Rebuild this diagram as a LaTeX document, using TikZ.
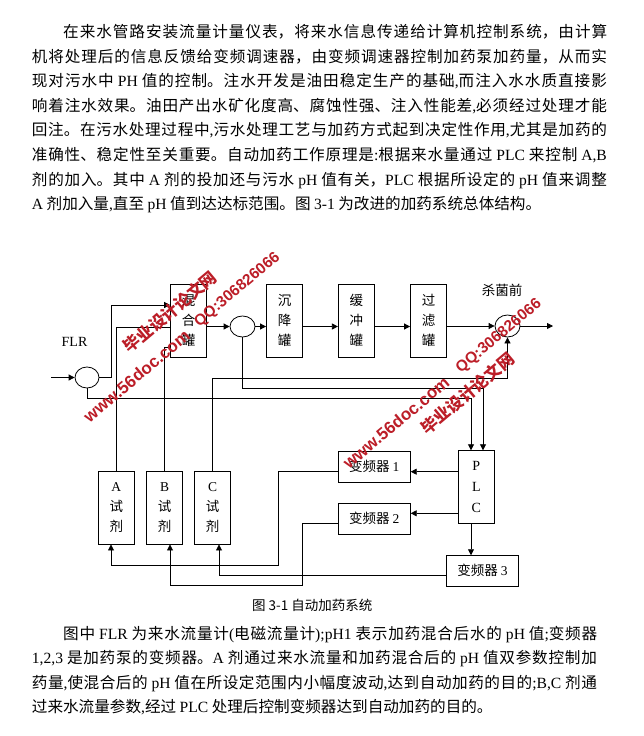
\documentclass[tikz,border=0pt]{standalone}
\usepackage{fontspec}
\setmainfont{Noto Sans CJK SC}
\newfontfamily\tnr{Liberation Serif}
\newfontfamily\wmlat{Liberation Sans}
\usetikzlibrary{arrows.meta,shapes.geometric}
\XeTeXlinebreaklocale "zh"
\XeTeXlinebreakskip=0pt plus 3pt
\newcommand\T[1]{{\tnr #1}}
\newcommand\jline[2]{\parbox[b]{#1}{\parfillskip=0pt\parindent=0pt\leftskip=0pt\rightskip=0pt\tolerance=10000\hbadness=10000\relax #2}}
\definecolor{wmred}{RGB}{188,30,40}
\begin{document}
\begin{tikzpicture}[x=1pt,y=-1pt,
  ln/.style={line width=0.8pt,black},
  arr/.style={ln,-{Triangle[length=6pt,width=6pt]}},
  tank/.style={draw,line width=0.8pt,inner sep=0pt,minimum width=36pt,minimum height=73pt,align=center,font=\fontsize{13.5}{20}\selectfont},
  fbox/.style={draw,line width=0.8pt,inner sep=0pt,minimum width=72pt,minimum height=31pt,font=\fontsize{13.5}{16}\selectfont},
  rnd/.style={draw,ellipse,line width=0.8pt,inner sep=0pt,minimum width=25pt,minimum height=21pt},
  para/.style={anchor=base west,inner sep=0pt,font=\fontsize{15.6}{18}\selectfont},
  wm/.style={text=wmred,inner sep=0pt,rotate=40},
  lbl/.style={inner sep=0pt}]
\useasboundingbox[fill=white] (0,0) rectangle (643,736);

% top paragraph
\node[para] (p1) at (63,37.5) {\jline{544pt}{在来水管路安装流量计量仪表，将来水信息传递给计算机控制系统，由计算}};
\node[para] (p2) at (31.7,62.1) {\jline{575pt}{机将处理后的信息反馈给变频调速器，由变频调速器控制加药泵加药量，从而实}};
\node[para] (p3) at (31.7,86.7) {\jline{575pt}{现对污水中 \T{PH} 值的控制。注水开发是油田稳定生产的基础\T{,}而注入水水质直接影}};
\node[para] (p4) at (31.7,111.3) {\jline{575pt}{响着注水效果。油田产出水矿化度高、腐蚀性强、注入性能差\T{,}必须经过处理才能}};
\node[para] (p5) at (31.7,135.9) {\jline{575pt}{回注。在污水处理过程中\T{,}污水处理工艺与加药方式起到决定性作用\T{,}尤其是加药的}};
\node[para] (p6) at (31.7,160.5) {\jline{575pt}{准确性、稳定性至关重要。自动加药工作原理是\T{:}根据来水量通过 \T{PLC} 来控制 \T{A,B}}};
\node[para] (p7) at (31.7,185.1) {\jline{575pt}{剂的加入。其中 \T{A} 剂的投加还与污水 \T{pH} 值有关，\T{PLC} 根据所设定的 \T{pH} 值来调整}};
\node[para] (p8) at (31.7,209.7) {\T{A} 剂加入量\T{,}直至 \T{pH} 值到达达标范围。图 \T{3-1} 为改进的加药系统总体结构。};

% tanks
\node[tank] (mix) at (188.5,320.5) {混\\合\\罐};
\node[tank] (sj) at (284.5,320.5) {沉\\降\\罐};
\node[tank] (hc) at (356.3,320.5) {缓\\冲\\罐};
\node[tank] (gl) at (428.5,320.5) {过\\滤\\罐};

% meters
\node[rnd,minimum width=24pt] (flr) at (87,377.5) {};
\node[rnd] (ph) at (242.5,326.5) {};
\node[rnd,minimum height=22pt] (st) at (507.5,326) {};
\node[lbl,font=\tnr\fontsize{14}{14}\selectfont] (flrl) at (74.5,342) {FLR};
\node[lbl,font=\fontsize{13.5}{14}\selectfont] (stl) at (502,290) {杀菌前};

% reagents
\node[tank,minimum height=72.3pt] (A) at (116.3,507.9) {\T{A}\\试\\剂};
\node[tank,minimum height=72.3pt] (B) at (164.7,507.9) {\T{B}\\试\\剂};
\node[tank,minimum height=72.3pt] (C) at (212.5,507.9) {\T{C}\\试\\剂};

% control
\node[fbox] (f1) at (374.3,466.5) {变频器 \T{1}};
\node[fbox] (f2) at (374.3,518.8) {变频器 \T{2}};
\node[fbox,minimum width=71.6pt,minimum height=30.3pt] (f3) at (482.5,570.8) {变频器 \T{3}};
\node[tank,minimum height=72.6pt,font=\tnr\fontsize{14}{21}\selectfont] (plc) at (476.3,487) {P\\L\\C};

\coordinate (in) at (51,377.5);
\coordinate (out) at (553,326);

% main flow
\draw[arr] (in) -- (flr.west);
\draw[arr] (flr.east) -- (111,377.5) -- (111,305) -- (mix.west |- 0,305);
\draw[arr] (mix.east |- ph.west) -- (ph.west);
\draw[arr] (ph.east) -- (sj.west |- ph.east);
\draw[arr] (sj.east |- ph.east) -- (hc.west |- ph.east);
\draw[arr] (hc.east |- ph.east) -- (gl.west |- ph.east);
\draw[arr] (gl.east |- st.west) -- (st.west);
\draw[arr] (st.east) -- (out);

% signals to PLC
\draw[arr] (flr.south) -- (flr.south |- 0,398) -- (471,398) -- (plc.north -| 471,0);
\draw[arr] (ph.south) -- (ph.south |- 0,388) -- (483,388) -- (plc.north -| 483,0);

% reagent feeds
\draw[ln] (A.north) -- (A.north |- 0,327) -- (mix.west |- 0,327);
\draw[ln] (B.north) -- (B.north |- 0,347) -- (mix.west |- 0,347);
\draw[arr] (C.north) -- (C.north |- 0,378) -- (507.5,378) -- (st.south);

% PLC outputs
\draw[arr] (plc.west |- 0,471.7) -- (f1.east |- 0,471.7);
\draw[arr] (plc.west |- 0,513.3) -- (f2.east |- 0,513.3);
\draw[arr] (plc.south -| 471,0) -- (f3.north -| 471,0);

% pumps
\draw[arr] (f1.west |- 0,471.7) -- (278.3,471.7) -- (278.3,565) -- (111,565) -- (A.south -| 111,0);
\draw[arr] (f2.west |- 0,523.3) -- (302.3,523.3) -- (302.3,585.7) -- (170,585.7) -- (B.south -| 170,0);
\draw[arr] (f3.west |- 0,575.7) -- (219,575.7) -- (C.south -| 219,0);

% caption
\node[anchor=west,inner sep=0pt,font=\fontsize{13.5}{14}\selectfont] (cap) at (252,605) {图 3-1 自动加药系统};

% bottom paragraph
\node[para] (q1) at (63,639) {\jline{534pt}{图中 \T{FLR} 为来水流量计\T{(}电磁流量计\T{);pH1} 表示加药混合后水的 \T{pH} 值\T{;}变频器}};
\node[para] (q2) at (31.7,663.5) {\jline{565pt}{\T{1,2,3} 是加药泵的变频器。\T{A} 剂通过来水流量和加药混合后的 \T{pH} 值双参数控制加}};
\node[para] (q3) at (31.7,688) {\jline{565pt}{药量\T{,}使混合后的 \T{pH} 值在所设定范围内小幅度波动\T{,}达到自动加药的目的\T{;B,C} 剂通}};
\node[para] (q4) at (31.7,712.5) {过来水流量参数\T{,}经过 \T{PLC} 处理后控制变频器达到自动加药的目的。};

% watermarks
\node[wm,font=\bfseries\fontsize{16.5}{17}\selectfont] (w1) at (170,312) {毕业设计论文网};
\node[wm,font=\wmlat\bfseries\fontsize{15.4}{16}\selectfont] (w2) at (237.5,290) {QQ:306826066};
\node[wm,font=\wmlat\bfseries\fontsize{17}{17}\selectfont] (w3) at (136.5,376) {www.56doc.com};
\node[wm,font=\wmlat\bfseries\fontsize{15.4}{16}\selectfont] (w4) at (499,336.5) {QQ:306826066};
\node[wm,font=\bfseries\fontsize{16.5}{17}\selectfont] (w5) at (467.5,393.5) {毕业设计论文网};
\node[wm,font=\wmlat\bfseries\fontsize{17}{17}\selectfont] (w6) at (396,422.5) {www.56doc.com};
\end{tikzpicture}
\end{document}
